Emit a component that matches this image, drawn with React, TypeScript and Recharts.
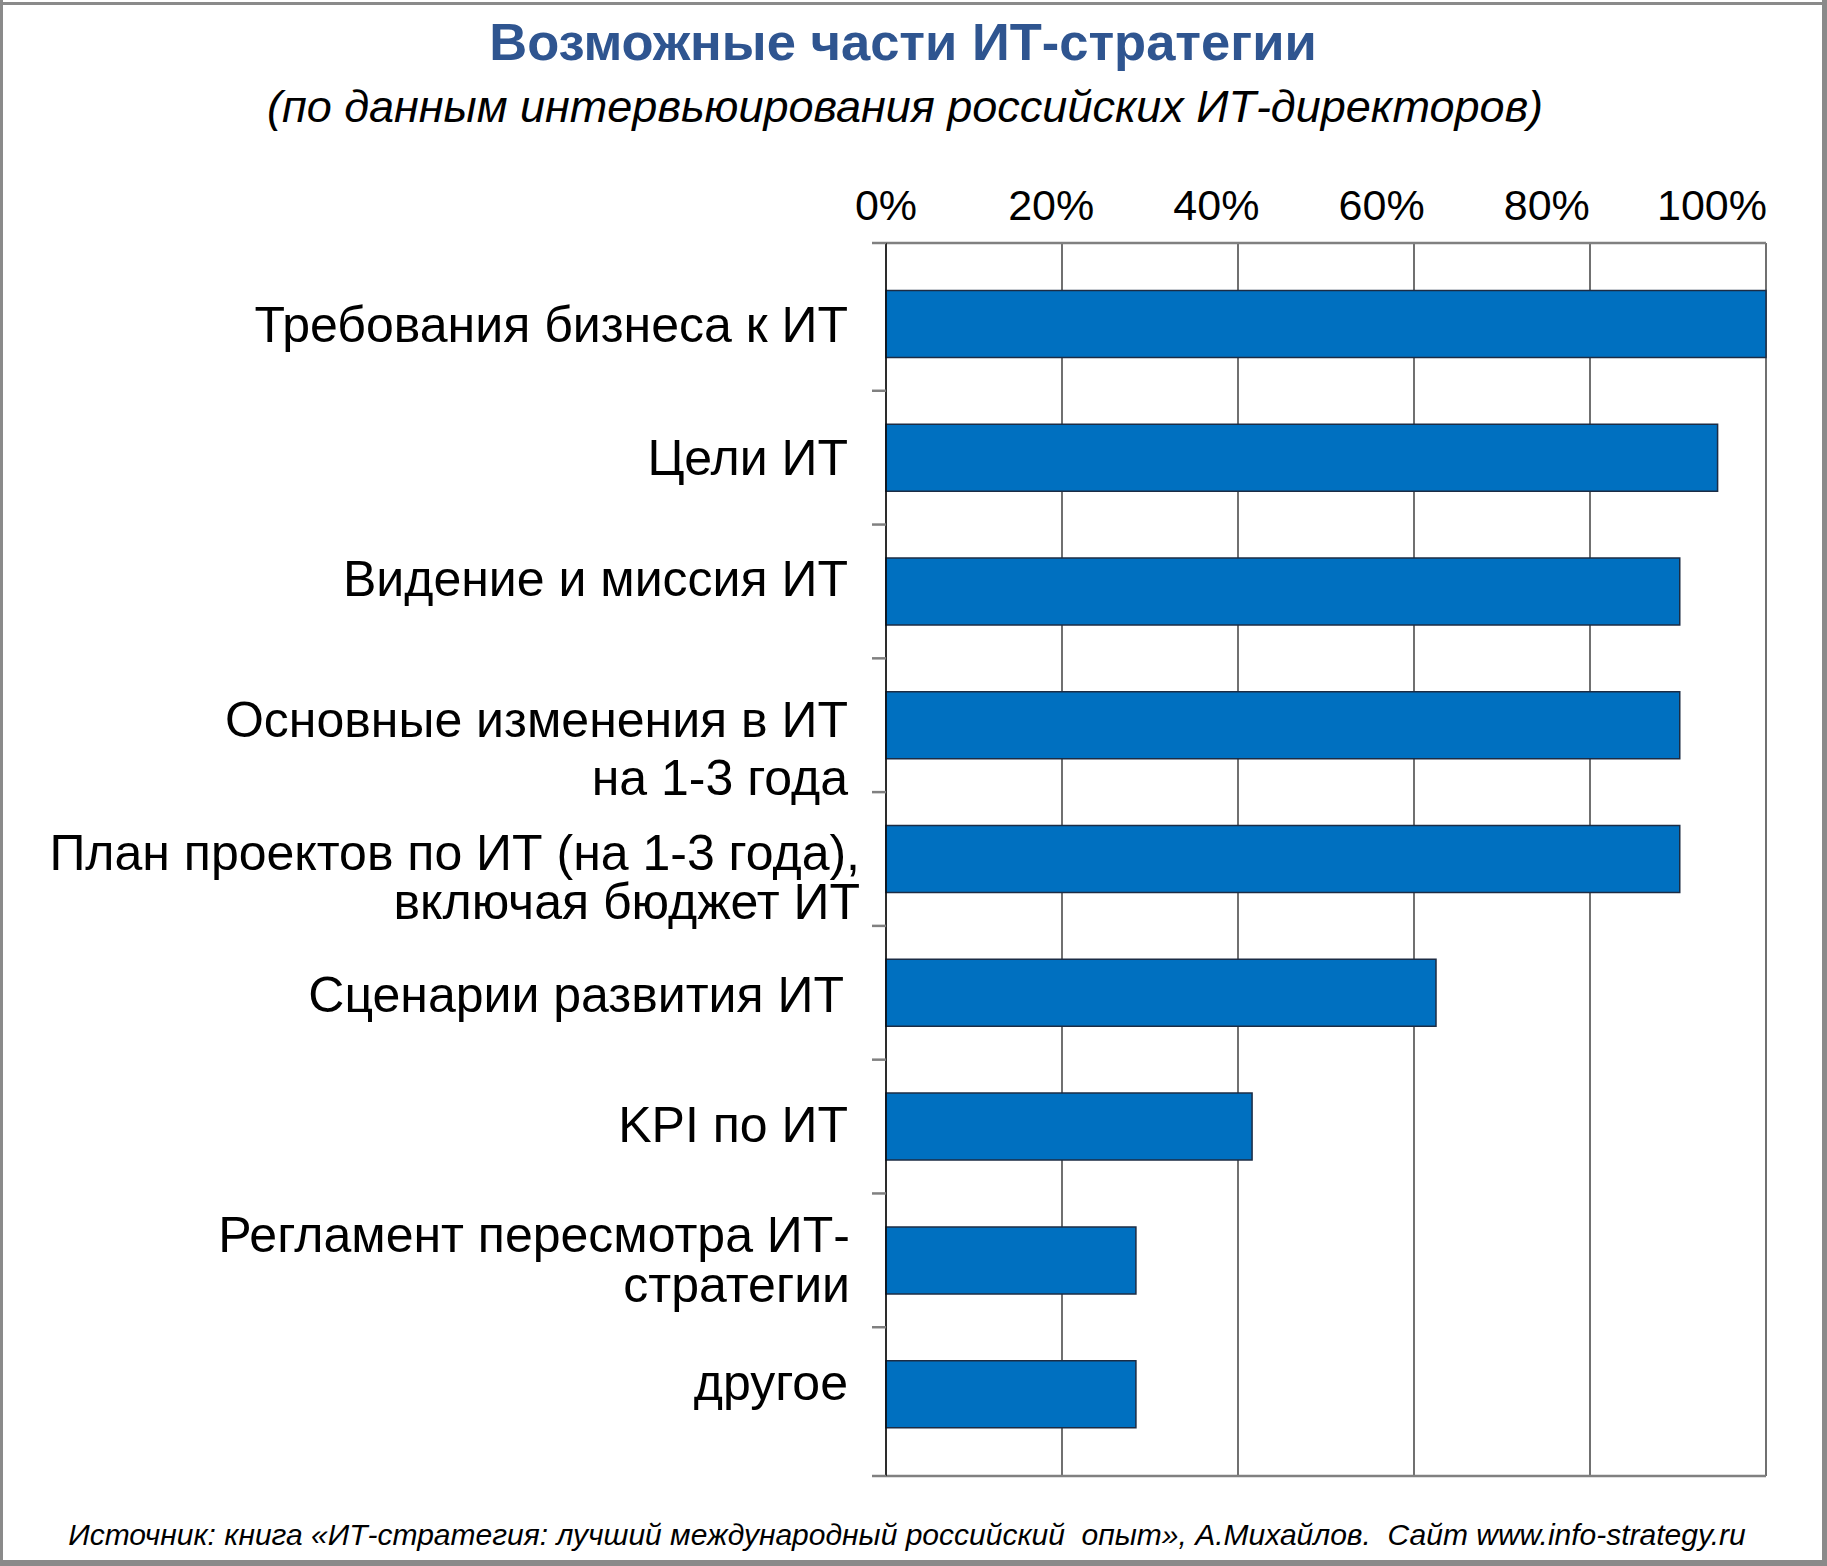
import { BarChart, Bar, XAxis, YAxis, CartesianGrid } from 'recharts';

const CATEGORIES = [
  'Требования бизнеса к ИТ',
  'Цели ИТ',
  'Видение и миссия ИТ',
  'Основные изменения в ИТ\nна 1-3 года',
  'План проектов по ИТ (на 1-3 года),\nвключая бюджет ИТ',
  'Сценарии развития ИТ',
  'KPI по ИТ',
  'Регламент пересмотра ИТ-\nстратегии',
  'другое',
];
const VALUES = [100, 94.5, 90.2, 90.2, 90.2, 62.5, 41.6, 28.4, 28.4];
const X_TICKS = [0, 20, 40, 60, 80, 100];

const TITLE = 'Возможные части ИТ-стратегии';
const SUBTITLE = '(по данным интервьюирования российских ИТ-директоров)';
const FOOTER =
  'Источник: книга «ИТ-стратегия: лучший международный российский  опыт», А.Михайлов.  Сайт www.info-strategy.ru';

// label placement tweaks (offset of first line from band centre, line step, right shift)
const LABEL_LAYOUT = [
  { dy: 0, lh: 0, dx: 0 },
  { dy: -1, lh: 0, dx: 0 },
  { dy: -13, lh: 0, dx: 0 },
  { dy: -6, lh: 58, dx: 0 },
  { dy: -7, lh: 49, dx: 12 },
  { dy: 1, lh: 0, dx: -4 },
  { dy: -3, lh: 0, dx: 0 },
  { dy: -26, lh: 50, dx: 2 },
  { dy: -12, lh: 0, dx: 0 },
];

const FONT = '"Liberation Sans", Arial, Helvetica, sans-serif';
const W = 1827;
const H = 1566;
const CAT_MARGIN = 38;
const PAD_TOP = 14;
const PAD_BOTTOM = 15;
const TICK_LEN = 14;

const data = CATEGORIES.map((name, i) => ({ name, value: VALUES[i] }));

function CategoryTick(props: any) {
  const { x, y, payload, index } = props;
  const lines = String(payload.value).split('\n');
  const lay = LABEL_LAYOUT[index] || { dy: 0, lh: 0, dx: 0 };
  const half = payload.offset || 67;
  const axisX = x + CAT_MARGIN;
  const tx = x + lay.dx;
  const last = index === CATEGORIES.length - 1;
  const tickY = last ? y + half + PAD_BOTTOM : y + half;
  return (
    <g>
      <line x1={axisX - TICK_LEN} x2={axisX} y1={tickY} y2={tickY} stroke="#808080" strokeWidth={2.5} />
      {index === 0 && (
        <line
          x1={axisX - TICK_LEN}
          x2={axisX}
          y1={y - half - PAD_TOP}
          y2={y - half - PAD_TOP}
          stroke="#808080"
          strokeWidth={2.5}
        />
      )}
      <text x={tx} y={y + lay.dy} textAnchor="end" fontSize={50} fontFamily={FONT} fill="#000">
        {lines.map((l, i) => (
          <tspan key={i} x={tx} dy={i === 0 ? '0.36em' : lay.lh}>
            {l}
          </tspan>
        ))}
      </text>
    </g>
  );
}

function PercentTick(props: any) {
  const { x, y, payload } = props;
  const v = Number(payload.value);
  return (
    <text x={x - v * 0.54} y={y} textAnchor="middle" fontSize={43} fontFamily={FONT} fill="#000">
      {v}%
    </text>
  );
}

export default function App() {
  return (
    <div style={{ position: 'absolute', left: 0, top: 0, width: W, height: H, background: '#fff' }}>
      <BarChart
        width={W}
        height={H}
        data={data}
        layout="vertical"
        barCategoryGap="25%"
        margin={{ top: 0, right: 61, bottom: 88, left: 0 }}
      >
        <CartesianGrid horizontal={false} stroke="#111" strokeWidth={1.2} />
        <XAxis
          type="number"
          orientation="top"
          domain={[0, 100]}
          ticks={X_TICKS}
          height={243}
          tickSize={0}
          tickMargin={23}
          tick={<PercentTick />}
          axisLine={{ stroke: '#808080', strokeWidth: 2.5 }}
          interval={0}
        />
        <XAxis
          xAxisId="bottom"
          type="number"
          orientation="bottom"
          domain={[0, 100]}
          ticks={X_TICKS}
          height={2}
          tick={false}
          tickLine={false}
          axisLine={{ stroke: '#808080', strokeWidth: 2.5 }}
        />
        <YAxis
          type="category"
          dataKey="name"
          width={886}
          padding={{ top: PAD_TOP, bottom: PAD_BOTTOM }}
          tickSize={0}
          tickMargin={CAT_MARGIN}
          tick={<CategoryTick />}
          axisLine={{ stroke: '#000', strokeWidth: 1.2 }}
          interval={0}
        />
        <Bar dataKey="value" fill="#0070C0" stroke="#1c2c44" strokeWidth={1.5} isAnimationActive={false} />
      </BarChart>
      <svg
        width={W}
        height={H}
        style={{ position: 'absolute', left: 0, top: 0, pointerEvents: 'none' }}
      >
        <text x={903} y={60} textAnchor="middle" fontSize={52.5} fontWeight="bold" fontFamily={FONT} fill="#2F5590">
          {TITLE}
        </text>
        <text x={905} y={122} textAnchor="middle" fontSize={45} fontStyle="italic" fontFamily={FONT} fill="#000">
          {SUBTITLE}
        </text>
        <text
          x={907}
          y={1545}
          textAnchor="middle"
          fontSize={30}
          fontStyle="italic"
          fontFamily={FONT}
          fill="#000"
          style={{ whiteSpace: 'pre' }}
        >
          {FOOTER}
        </text>
        <rect x={0} y={2} width={W} height={3} fill="#8a8a8a" />
        <rect x={0} y={0} width={3} height={H} fill="#8a8a8a" />
        <rect x={W - 5} y={0} width={5} height={H} fill="#8a8a8a" />
        <rect x={0} y={H - 6} width={W} height={6} fill="#8a8a8a" />
      </svg>
    </div>
  );
}
